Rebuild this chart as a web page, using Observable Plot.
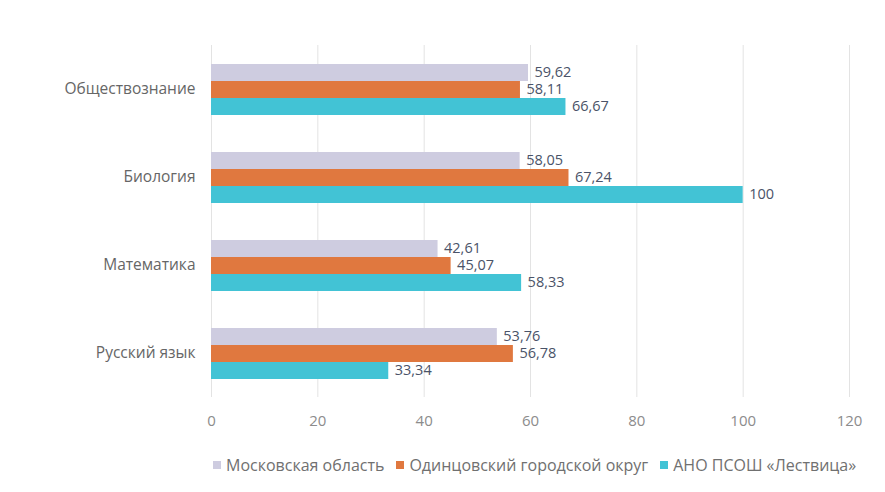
<!DOCTYPE html>
<html>
<head>
<meta charset="utf-8">
<script src="https://cdn.jsdelivr.net/npm/d3@7"></script>
<script src="https://cdn.jsdelivr.net/npm/@observablehq/plot@0.6"></script>
<style>
  html, body { margin: 0; padding: 0; background: #fff; }
  body { width: 885px; height: 492px; overflow: hidden; font-family: "Open Sans", "DejaVu Sans", sans-serif; }
  #chart svg { display: block; }
  #legend { display: flex; align-items: center; margin-left: 213px; margin-top: 14px; font-size: 16px; color: #707070; white-space: nowrap; }
  #legend .item { display: flex; align-items: center; margin-right: 12px; }
  #legend .sw { width: 8px; height: 8px; margin-right: 5px; }
</style>
</head>
<body>
<div id="chart"></div>
<div id="legend"></div>
<script>
const subjects = ["Обществознание", "Биология", "Математика", "Русский язык"];
const series = ["Московская область", "Одинцовский городской округ", "АНО ПСОШ «Лествица»"];
const moscow = [59.62, 58.05, 42.61, 53.76];
const odintsovo = [58.11, 67.24, 45.07, 56.78];
const lestvitsa = [66.67, 100, 58.33, 33.34];
const xTicks = [0, 20, 40, 60, 80, 100, 120];
const colors = ["#cecce0", "#e0783f", "#42c3d5"];

const valuesBySeries = [moscow, odintsovo, lestvitsa];
const data = [];
subjects.forEach((s, i) => {
  series.forEach((k, j) => {
    data.push({subject: s, series: k, value: valuesBySeries[j][i]});
  });
});
const fmt = v => Number.isInteger(v) ? String(v) : v.toFixed(2).replace(".", ",");

const chart = Plot.plot({
  width: 885,
  height: 440,
  marginLeft: 211,
  marginRight: 36,
  marginTop: 43,
  marginBottom: 42,
  style: {fontFamily: '"Open Sans", sans-serif', fontSize: "14px", color: "#595959", background: "#fff"},
  facet: {data, y: "subject"},
  fy: {domain: subjects, padding: 0, label: null, axis: "left", tickSize: 0, tickPadding: 16},
  y: {domain: series, paddingInner: 0, paddingOuter: 1.04, axis: null},
  x: {domain: [0, 120], ticks: xTicks, tickFormat: d => String(d), grid: true, tickSize: 0, tickPadding: 18, label: null},
  color: {domain: series, range: colors},
  marks: [
    Plot.barX(data, {x: "value", y: "series", fill: "series"}),
    Plot.text(data, {x: "value", y: "series", text: d => fmt(d.value), textAnchor: "start", dx: 6, dy: -1, fill: "#4a5368", fontSize: 14.5})
  ]
});
document.getElementById("chart").appendChild(chart);

const style = document.createElement("style");
style.textContent = `
  #chart svg g[aria-label^="x-axis"] text { fill: #8c8c8c; font-size: 15px; }
  #chart svg g[aria-label^="x-grid"] line, #chart svg g[aria-label^="x-axis"] line { stroke: #e3e3e3; stroke-opacity: 1; }
  #chart svg g[aria-label^="fy-axis"] text { fill: #666666; font-size: 15.5px; }
`;
document.head.appendChild(style);

const legend = document.getElementById("legend");
series.forEach((s, i) => {
  const it = document.createElement("div");
  it.className = "item";
  const sw = document.createElement("div");
  sw.className = "sw";
  sw.style.background = colors[i];
  const t = document.createElement("span");
  t.textContent = s;
  it.appendChild(sw);
  it.appendChild(t);
  legend.appendChild(it);
});
</script>
</body>
</html>
